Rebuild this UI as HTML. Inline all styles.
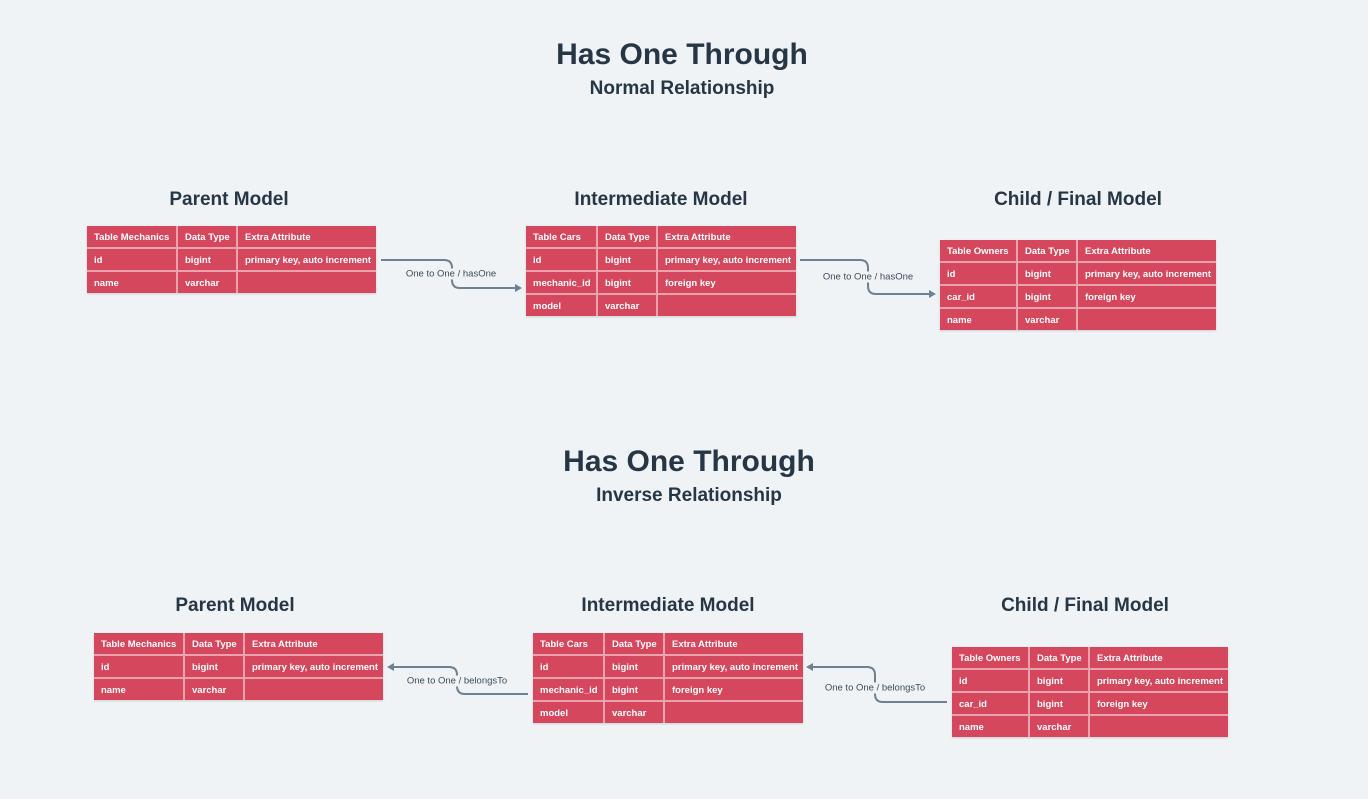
<!DOCTYPE html>
<html><head><meta charset="utf-8"><style>
html,body{margin:0;padding:0;}
body{width:1368px;height:799px;background:#eff3f6;position:relative;overflow:hidden;font-family:"Liberation Sans",sans-serif;color:#263645;}
.t{position:absolute;text-align:center;font-weight:bold;white-space:nowrap;transform:translateX(-50%);}
.h1{font-size:30px;letter-spacing:0px;}
.h2{font-size:19px;}
.h3{font-size:19px;}
table{position:absolute;border-collapse:collapse;background:#d4475c;box-shadow:0 1px 2px rgba(0,0,0,0.15);table-layout:fixed;}
td{color:#fff;font-size:9.5px;font-weight:bold;padding:2px 0 0 7px;height:19px;border:2px solid #e9a3ad;white-space:nowrap;overflow:hidden;}
tr:first-child td{border-top:none;}
tr:last-child td{border-bottom:none;}
td:first-child{border-left:none;}
td:last-child{border-right:none;}
.lbl{position:absolute;font-size:9.5px;color:#3c4b58;background:#eff3f6;white-space:nowrap;transform:translate(-50%,-50%);padding:0 1px;}
svg{position:absolute;left:0;top:0;}
</style></head><body>

<div class="t h1" style="left:682px;top:38px;">Has One Through</div>
<div class="t h2" style="left:682px;top:78px;">Normal Relationship</div>
<div class="t h1" style="left:689px;top:445px;">Has One Through</div>
<div class="t h2" style="left:689px;top:485px;">Inverse Relationship</div>

<div class="t h3" style="left:229px;top:189px;">Parent Model</div>
<div class="t h3" style="left:661px;top:189px;">Intermediate Model</div>
<div class="t h3" style="left:1078px;top:189px;">Child / Final Model</div>
<div class="t h3" style="left:235px;top:595px;">Parent Model</div>
<div class="t h3" style="left:668px;top:595px;">Intermediate Model</div>
<div class="t h3" style="left:1085px;top:595px;">Child / Final Model</div>

<svg width="1368" height="799">
<g fill="none" stroke="#6f8090" stroke-width="2">
<path d="M381 260 H444 Q452 260 452 268 V280 Q452 288 460 288 H516"/>
<path d="M800 260 H860 Q868 260 868 268 V286 Q868 294 876 294 H930"/>
<path d="M528 694 H465 Q457 694 457 686 V675 Q457 667 449 667 H394"/>
<path d="M947 702 H883 Q875 702 875 694 V675 Q875 667 867 667 H813"/>
</g>
<g fill="#6f8090">
<path d="M522 288 L515 284 L515 292 Z"/>
<path d="M936 294 L929 290 L929 298 Z"/>
<path d="M387 667 L394 663 L394 671 Z"/>
<path d="M806 667 L813 663 L813 671 Z"/>
</g>
</svg>
<div class="lbl" style="left:451px;top:274px;">One to One / hasOne</div>
<div class="lbl" style="left:868px;top:277px;">One to One / hasOne</div>
<div class="lbl" style="left:457px;top:681px;">One to One / belongsTo</div>
<div class="lbl" style="left:875px;top:688px;">One to One / belongsTo</div>

<table style="left:87px;top:226px;width:289px;">
<colgroup><col style="width:90px"><col style="width:60px"><col></colgroup>
<tr><td>Table Mechanics</td><td>Data Type</td><td>Extra Attribute</td></tr>
<tr><td>id</td><td>bigint</td><td>primary key, auto increment</td></tr>
<tr><td>name</td><td>varchar</td><td></td></tr>
</table>

<table style="left:526px;top:226px;width:270px;">
<colgroup><col style="width:71px"><col style="width:60px"><col></colgroup>
<tr><td>Table Cars</td><td>Data Type</td><td>Extra Attribute</td></tr>
<tr><td>id</td><td>bigint</td><td>primary key, auto increment</td></tr>
<tr><td>mechanic_id</td><td>bigint</td><td>foreign key</td></tr>
<tr><td>model</td><td>varchar</td><td></td></tr>
</table>

<table style="left:940px;top:240px;width:276px;">
<colgroup><col style="width:77px"><col style="width:60px"><col></colgroup>
<tr><td>Table Owners</td><td>Data Type</td><td>Extra Attribute</td></tr>
<tr><td>id</td><td>bigint</td><td>primary key, auto increment</td></tr>
<tr><td>car_id</td><td>bigint</td><td>foreign key</td></tr>
<tr><td>name</td><td>varchar</td><td></td></tr>
</table>

<table style="left:94px;top:633px;width:289px;">
<colgroup><col style="width:90px"><col style="width:60px"><col></colgroup>
<tr><td>Table Mechanics</td><td>Data Type</td><td>Extra Attribute</td></tr>
<tr><td>id</td><td>bigint</td><td>primary key, auto increment</td></tr>
<tr><td>name</td><td>varchar</td><td></td></tr>
</table>

<table style="left:533px;top:633px;width:270px;">
<colgroup><col style="width:71px"><col style="width:60px"><col></colgroup>
<tr><td>Table Cars</td><td>Data Type</td><td>Extra Attribute</td></tr>
<tr><td>id</td><td>bigint</td><td>primary key, auto increment</td></tr>
<tr><td>mechanic_id</td><td>bigint</td><td>foreign key</td></tr>
<tr><td>model</td><td>varchar</td><td></td></tr>
</table>

<table style="left:952px;top:647px;width:276px;">
<colgroup><col style="width:77px"><col style="width:60px"><col></colgroup>
<tr><td>Table Owners</td><td>Data Type</td><td>Extra Attribute</td></tr>
<tr><td>id</td><td>bigint</td><td>primary key, auto increment</td></tr>
<tr><td>car_id</td><td>bigint</td><td>foreign key</td></tr>
<tr><td>name</td><td>varchar</td><td></td></tr>
</table>

</body></html>
